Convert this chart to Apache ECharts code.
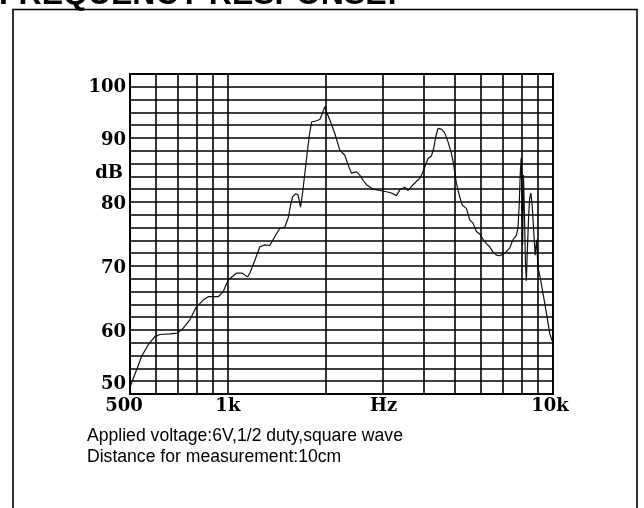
<!DOCTYPE html>
<html><head><meta charset="utf-8">
<script src="https://cdn.jsdelivr.net/npm/echarts@6/dist/echarts.min.js"></script>
<style>html,body{margin:0;padding:0;background:#fff}#c{width:644px;height:508px}</style>
</head><body><div id="c"></div>
<script>
// Frequency (Hz) and sound pressure level (dB)
const freqHz = [502,524,543,569,597,618,664,699,729,764,798,840,870,934,968,1002,1064,1105,1149,1169,1211,1254,1300,1346,1395,1445,1497,1533,1559,1581,1618,1645,1673,1697,1725,1753,1778,1809,1874,1918,1955,1987,2011,2059,2133,2210,2289,2343,2400,2487,2545,2606,2669,2797,2932,3075,3185,3300,3378,3500,3583,3712,3802,3892,3967,4033,4128,4228,4297,4359,4430,4538,4645,4755,4870,4951,5046,5165,5264,5416,5544,5675,5814,5950,6090,6239,6386,6537,6696,6854,7102,7358,7530,7714,7801,7870,7926,7981,8027,8065,8112,8170,8227,8281,8329,8418,8478,8550,8628,8721,8814,8908,8991,9099,9313,9540,9766,9940];
const levelDb = [51.3,53.8,55.9,57.7,59.0,59.3,59.4,59.5,60.3,61.6,63.5,64.7,65.2,65.2,66.0,67.8,68.9,68.9,68.3,68.9,70.9,73.0,73.3,73.2,74.6,75.9,76.1,77.5,79.5,80.8,81.3,81.1,79.2,81.4,84.5,87.6,90.2,92.5,92.7,92.9,93.9,94.9,94.1,92.8,90.7,88.1,87.3,85.8,84.5,84.7,84.2,83.4,82.7,82.0,81.8,81.6,81.4,81.0,81.9,82.3,81.8,82.7,83.2,83.7,84.5,85.5,86.8,87.2,88.4,90.2,91.5,91.4,90.8,89.4,87.6,85.8,82.9,80.8,79.5,79.0,77.2,76.7,75.4,75.0,74.2,73.5,73.0,72.2,71.7,71.6,72.0,72.8,74.1,74.8,75.9,79.5,84.2,86.9,80.3,73.3,84.2,78.0,70.6,67.7,71.7,78.0,80.6,81.4,79.5,75.6,71.7,74.1,69.7,68.6,65.8,62.7,59.5,58.3];
// Vertical grid frequencies (log paper)
const gridFreqs = [600,700,800,900,1000,2000,3000,4000,5000,6000,7000,8000,9000];
const titleText = 'FREQUENCY RESPONSE:';
const xName = 'Hz';
const yName = 'dB';
const noteLines = ['Applied voltage:6V,1/2 duty,square wave', 'Distance for measurement:10cm'];

const chart = echarts.init(document.getElementById('c'), null, {renderer: 'canvas'});
const serif = 'DejaVu Serif';
const lbl = {fontFamily: serif, fontWeight: 'bold', fontSize: 18, color: '#000'};
const data = freqHz.map((f, i) => [f, levelDb[i]]);

const option = {
  animation: false,
  backgroundColor: '#fff',
  title: {
    text: titleText, left: -1, top: -21, padding: 0,
    textStyle: {fontFamily: 'Liberation Sans', fontWeight: 'bold', fontSize: 32, color: '#000'}
  },
  grid: {
    left: 130, right: 91, top: 74, bottom: 114,
    show: true, borderColor: '#000', borderWidth: 2, backgroundColor: 'transparent',
    containLabel: false, outerBoundsMode: 'none'
  },
  xAxis: {
    type: 'log', logBase: 10, min: 500, max: 10000,
    name: xName, nameLocation: 'middle', nameGap: 3, nameMoveOverlap: false,
    nameTextStyle: Object.assign({}, lbl, {align: 'center', verticalAlign: 'top', padding: [0, 0, 0, 84]}),
    axisLine: {show: false}, axisTick: {show: false},
    splitLine: {show: false}, minorTick: {show: false}, minorSplitLine: {show: false},
    axisLabel: Object.assign({}, lbl, {
      margin: 3,
      formatter: function (v) {
        v = Math.round(v);
        const s = v >= 1000 ? (v / 1000) + 'k' : String(v);
        if (v === 500) return '{l|' + s + '}';
        if (v === 10000) return '{r|' + s + '}';
        return '{n|' + s + '}';
      },
      rich: {
        l: Object.assign({}, lbl, {padding: [0, 12, 0, 0]}),
        r: Object.assign({}, lbl, {padding: [0, 6, 0, 0]}),
        n: Object.assign({}, lbl)
      }
    })
  },
  yAxis: {
    type: 'value', min: 50, max: 100, interval: 2,
    name: '{d|' + yName + '}', nameLocation: 'middle', nameRotate: 0, nameGap: 7, nameMoveOverlap: false,
    nameTextStyle: Object.assign({}, lbl, {
      align: 'right', verticalAlign: 'middle',
      rich: {d: Object.assign({}, lbl, {padding: [0, 0, 122, 0]})}
    }),
    axisLine: {show: false}, axisTick: {show: false},
    splitLine: {show: true, lineStyle: {color: '#000', width: 1.5}},
    axisLabel: Object.assign({}, lbl, {
      margin: 4,
      formatter: function (v) {
        v = Math.round(v);
        if (v === 100) return '{t|100}';
        if (v === 50) return '{b|50}';
        if (v % 10 === 0) return '{n|' + v + '}';
        return '';
      },
      rich: {
        t: Object.assign({}, lbl, {padding: [26, 0, 0, 0]}),
        b: Object.assign({}, lbl, {padding: [0, 0, 19, 0]}),
        n: Object.assign({}, lbl, {padding: [4, 0, 0, 0]})
      }
    })
  },
  graphic: [
    {type: 'rect', silent: true, z: -10,
     shape: {x: 13, y: 9.5, width: 624, height: 540},
     style: {fill: 'none', stroke: '#000', lineWidth: 1.6}},
    {type: 'text', silent: true, left: 87, top: 426,
     style: {text: noteLines.join('\n'), font: '17.6px "Liberation Sans"', fill: '#000', lineHeight: 20.6}}
  ],
  series: [{
    type: 'line', data: data, showSymbol: false, symbol: 'none',
    lineStyle: {color: '#111', width: 1.2},
    emphasis: {disabled: true},
    markLine: {
      silent: true, symbol: ['none', 'none'], animation: false,
      label: {show: false}, emphasis: {disabled: true},
      lineStyle: {color: '#000', width: 1.6, type: 'solid'},
      data: gridFreqs.map(f => ({xAxis: f}))
    }
  }]
};
chart.setOption(option);
</script>
</body></html>
